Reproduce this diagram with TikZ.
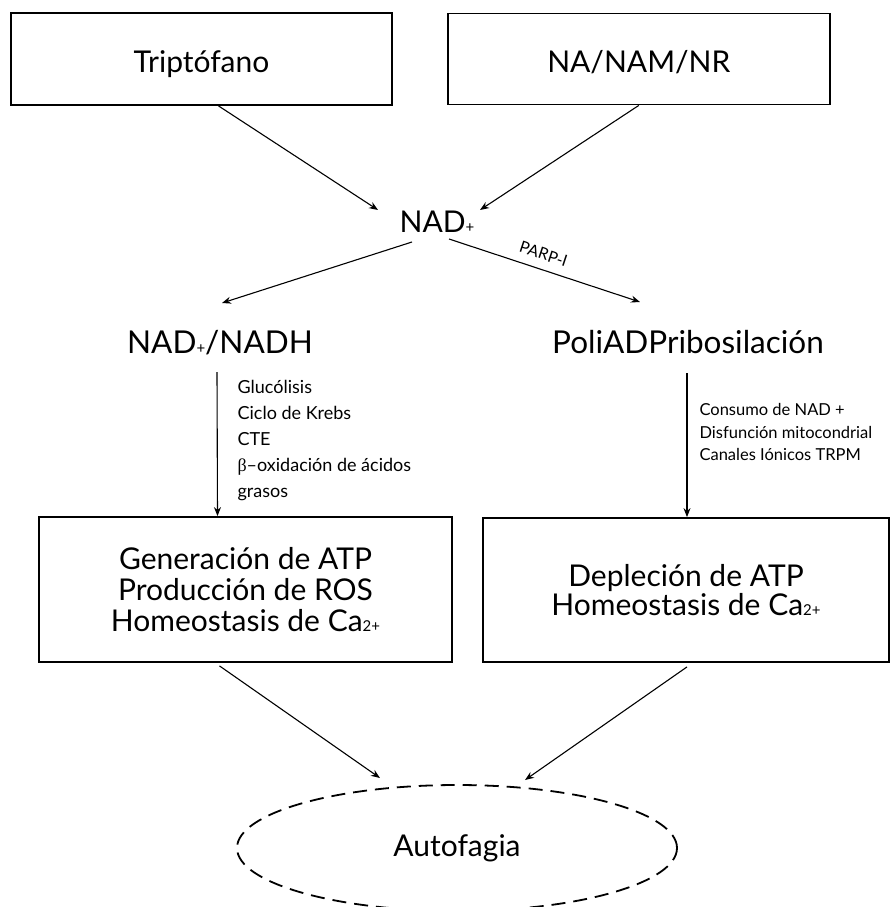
\documentclass[tikz,border=0pt]{standalone}
\usepackage{fontspec}
\setmainfont{Lato}
\newfontfamily\greekfont{Liberation Serif}
\usetikzlibrary{arrows.meta,shapes.geometric,positioning}
\newcommand*\lowsign[1]{{\fontsize{15}{15}\selectfont #1}}

\begin{document}
\begin{tikzpicture}[x=1pt,y=-1pt,->,>={Stealth[length=9pt,width=7pt]},
		line width=1.1pt, inner sep=0pt]
		\tikzstyle{box}=[draw,line width=1.8pt,align=center]
		\tikzstyle{big}=[font=\fontsize{30}{30}\selectfont]
		\tikzstyle{note}=[align=left,anchor=north west]

		\useasboundingbox (0,0) rectangle (891,907);

		\node[box,big,minimum width=381pt,minimum height=92pt,text height=26pt,text depth=0pt] (trip) at (201.5,59) {Triptófano};
		\node[box,big,minimum width=382pt,minimum height=91pt,text height=26pt,text depth=0pt] (na) [right=54pt of trip] {NA/NAM/NR};
		\node[big,anchor=base] (nad) at (437,232) {NAD\lowsign{+}};
		\node[big,anchor=base,font=\fontsize{31.5}{31.5}\selectfont] (nadh) at (220,353) {NAD\lowsign{+}/NADH};
		\node[big,anchor=base,font=\fontsize{31.5}{31.5}\selectfont] (poli) at (688,353) {PoliADPribosilación};
		\node[box,minimum width=413pt,minimum height=145pt,font=\fontsize{30}{31}\selectfont] (gen) at (245.5,589.5)
			{Generación de ATP\\Producción de ROS\\Homeostasis de Ca\lowsign{2+}};
		\node[box,minimum width=406pt,minimum height=144pt,font=\fontsize{30}{29}\selectfont] (dep) at (686,590)
			{Depleción de ATP\\Homeostasis de Ca\lowsign{2+}};
		\node[ellipse,draw,line width=1.8pt,dash pattern=on 14pt off 8pt,minimum width=440pt,minimum height=126pt,big]
			(auto) at (457,848) {Autofagia};

		\node[note,font=\fontsize{18}{26}\selectfont] (glyc) at (237,380)
			{Glucólisis\\Ciclo de Krebs\\CTE\\{\greekfont β}--oxidación de ácidos\\grasos};
		\node[note,font=\fontsize{16.5}{22.5}\selectfont] (cons) at (699,403)
			{Consumo de NAD +\\Disfunción mitocondrial\\Canales Iónicos TRPM};

		\draw ([xshift=17pt]trip.south) -- ([xshift=-59pt,yshift=22pt]nad.base);
		\draw (na.south) -- ([xshift=43pt,yshift=22pt]nad.base);
		\draw ([xshift=-25pt,yshift=-10pt]nad.base) -- ([xshift=2pt,yshift=50pt]nadh.base);
		\draw ([xshift=12pt,yshift=-7pt]nad.base) -- node[pos=0.47,above=9pt,sloped,font=\fontsize{16}{16}\selectfont] {PARP-I}
			([xshift=-48pt,yshift=51pt]poli.base);
		\draw ([xshift=-3pt,yshift=-19pt]nadh.base) -- ([xshift=-28pt]gen.north);
		\draw ([xshift=-1pt,yshift=-20pt]poli.base) -- ([xshift=1pt]dep.north);
		\draw ([xshift=-26pt,yshift=-3pt]gen.south) -- ([xshift=-77pt,yshift=70pt]auto.center);
		\draw ([xshift=1pt,yshift=-4pt]dep.south) -- ([xshift=68pt,yshift=68pt]auto.center);
\end{tikzpicture}
\end{document}
